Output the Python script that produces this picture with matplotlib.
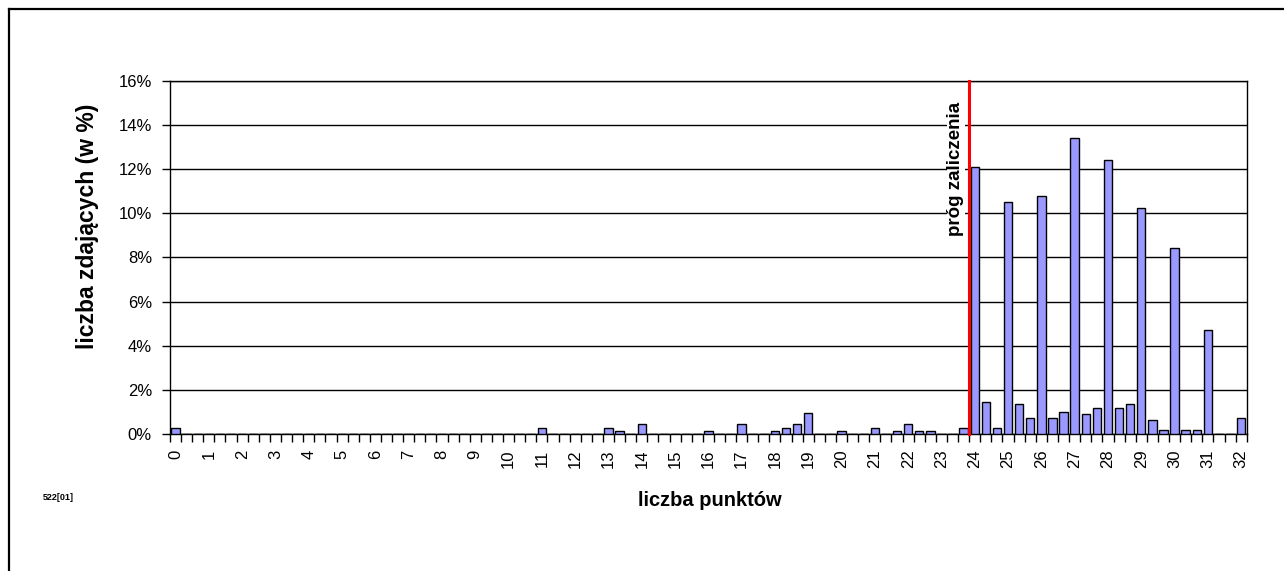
import numpy as np
import matplotlib.pyplot as plt
from matplotlib.lines import Line2D

plt.rcParams['font.family'] = ['Liberation Sans', 'DejaVu Sans']

# percent of candidates for each score (steps of 1/3 point, 0 .. 32)
procent = [
    0.25, 0, 0,      # 0
    0, 0, 0,         # 1
    0, 0, 0,         # 2
    0, 0, 0,         # 3
    0, 0, 0,         # 4
    0, 0, 0,         # 5
    0, 0, 0,         # 6
    0, 0, 0,         # 7
    0, 0, 0,         # 8
    0, 0, 0,         # 9
    0, 0, 0,         # 10
    0.25, 0, 0,      # 11
    0, 0, 0,         # 12
    0.25, 0.15, 0,   # 13
    0.45, 0, 0,      # 14
    0, 0, 0,         # 15
    0.15, 0, 0,      # 16
    0.45, 0, 0,      # 17
    0.15, 0.25, 0.45,  # 18
    0.97, 0, 0,      # 19
    0.15, 0, 0,      # 20
    0.25, 0, 0.15,   # 21
    0.45, 0.15, 0.15,  # 22
    0, 0, 0.25,      # 23
    12.1, 1.45, 0.27,  # 24
    10.5, 1.37, 0.72,  # 25
    10.78, 0.72, 1.0,  # 26
    13.4, 0.9, 1.19,   # 27
    12.4, 1.19, 1.37,  # 28
    10.22, 0.63, 0.17,  # 29
    8.42, 0.17, 0.17,  # 30
    4.7, 0, 0,       # 31
    0.72,            # 32
]
etykiety = [str(i) for i in range(33)]
prog = 24

W, H = 1284, 571
fig = plt.figure(figsize=(W / 100, H / 100), dpi=100)
ax = fig.add_axes([170 / W, 1 - 434 / H, (1246.7 - 170) / W, (434 - 80.7) / H])

x = np.arange(len(procent))
ax.bar(x, procent, width=0.75, color='#9999FF', edgecolor='black', linewidth=1.0, zorder=3)

ax.set_xlim(-0.5, len(procent) - 0.5)
ax.set_ylim(0, 16)
ax.set_yticks(np.arange(0, 17, 2))
ax.set_yticklabels(['%d%%' % v for v in range(0, 17, 2)], fontsize=12)
ax.yaxis.grid(True, color='black', linewidth=1.0)
ax.set_axisbelow(True)
ax.tick_params(axis='y', direction='out', length=6, width=1, pad=7)

ax.set_xticks(np.arange(0, len(procent), 3))
ax.set_xticklabels(etykiety, rotation=90, fontsize=12)
ax.set_xticks(np.arange(-0.5, len(procent), 1), minor=True)
ax.tick_params(axis='x', which='major', length=0, pad=11)
ax.tick_params(axis='x', which='minor', direction='out', length=6, width=1)
for s in ax.spines.values():
    s.set_linewidth(1.0)

# pass threshold line
xp = prog * 3 - 0.5
ax.plot([xp, xp], [0, 16], color='#FF0000', linewidth=2.2, zorder=4, clip_on=False)
ax.text(xp - 1.2, 12.0, 'próg zaliczenia', rotation=90, ha='center', va='center',
        fontsize=13.5, fontweight='bold', zorder=5,
        bbox=dict(facecolor='white', edgecolor='none', pad=0.5))

fig.text(88 / W, 1 - 226 / H, 'liczba zdających (w %)', rotation=90, ha='center', va='center',
         fontsize=16.5, fontweight='bold')
fig.text(710 / W, 1 - 500 / H, 'liczba punktów', ha='center', va='center',
         fontsize=14.5, fontweight='bold')
fig.text(58 / W, 1 - 497 / H, '522[01]', ha='center', va='center', fontsize=6.5, fontweight='bold')

# frame of the chart area (cut on right and bottom)
fig.add_artist(Line2D([9 / W, 9 / W], [0, 1 - 9 / H], color='black', linewidth=1.6))
fig.add_artist(Line2D([9 / W, 1], [1 - 9 / H, 1 - 9 / H], color='black', linewidth=1.6))

plt.savefig('out.png', dpi=100)
